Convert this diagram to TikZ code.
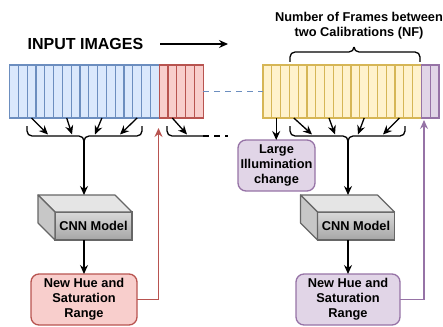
\documentclass[tikz,border=0pt]{standalone}
\usepackage{fontspec}
\setmainfont{Liberation Sans}
\usepackage{xcolor}
\usetikzlibrary{arrows.meta,calc,positioning}
\definecolor{blueFill}{HTML}{DAE8FC}
\definecolor{blueLine}{HTML}{6C8EBF}
\definecolor{redFill}{HTML}{F8CECC}
\definecolor{redLine}{HTML}{B85450}
\definecolor{yellowFill}{HTML}{FFF2CC}
\definecolor{yellowLine}{HTML}{D6B656}
\definecolor{purpleFill}{HTML}{E1D5E7}
\definecolor{purpleLine}{HTML}{9673A6}
\definecolor{cubeLine}{HTML}{666666}
\tikzset{%
	txt/.style      = {font=\bfseries\fontsize{12.8}{15}\selectfont, align=center},
	cell/.style     = {draw, rectangle, minimum width=8.8pt, minimum height=53pt, inner sep=0pt, outer sep=0pt, line width=1.2pt},
	bluecell/.style = {cell, fill=blueFill, draw=blueLine},
	redcell/.style  = {cell, fill=redFill, draw=redLine},
	yelcell/.style  = {cell, fill=yellowFill, draw=yellowLine},
	purcell/.style  = {cell, fill=purpleFill, draw=purpleLine},
	roundbox/.style = {txt, draw, rectangle, rounded corners=8pt, line width=1.3pt, inner sep=0pt, outer sep=0pt},
	cube/.style     = {txt, draw=cubeLine, rectangle, line width=1.2pt, minimum width=77pt, minimum height=28pt, inner sep=0pt, outer sep=0pt, top color=black!15, bottom color=black!35},
	face/.style     = {draw=cubeLine, line width=1.2pt, line join=round},
	arrow/.style    = {line width=1.3pt, -{Stealth[length=9pt,width=8pt,inset=3pt]}},
	brace/.style    = {line width=1.3pt, rounded corners=5pt},
}

\begin{document}
\begin{tikzpicture}[x=1pt,y=-1pt]
	\useasboundingbox (0,0) rectangle (443,326);
	% title and the flow arrow
	\node[txt, font=\bfseries\fontsize{16}{18}\selectfont, inner sep=0pt] (title) at (85.5,44) {INPUT IMAGES};
	\coordinate (flowend) at (228,44);
	\draw[arrow] ([xshift=17pt]title.east) -- (flowend);
	% first batch of frames
	\foreach \i in {1,...,17}
		\node[bluecell] (b\i) at ({9.5+8.8*(\i-0.5)},91.5) {};
	\foreach \i in {1,...,5}
		\node[redcell] (r\i) at ({159.1+8.8*(\i-0.5)},91.5) {};
	% second batch of frames
	\foreach \i in {1,...,18}
		\node[yelcell] (y\i) at ({263+8.8*(\i-0.5)},91.5) {};
	\foreach \i in {1,...,2}
		\node[purcell] (p\i) at ({421.4+8.8*(\i-0.5)},91.5) {};
	\draw[blueLine, line width=1.3pt, dash pattern=on 6pt off 5pt] (r5.east) -- (y1.west);
	% brace over the calibration interval
	\draw[brace] (290,62) |- (354,52) -- (354,47);
	\draw[brace] (420,62) |- (354,52) -- (354,47);
	\node[txt] (nf) at (359,25.5) {Number of Frames between\\two Calibrations (NF)};
	% braces under the frames
	\coordinate (lbrace) at (84,141);
	\draw[brace] (27,126) |- (lbrace |- 0,136) -- (lbrace);
	\draw[brace] (142,126) |- (lbrace |- 0,136) -- (lbrace);
	\coordinate (rbrace) at (348,141);
	\draw[brace] (290,126) |- (rbrace |- 0,136) -- (rbrace);
	\draw[brace] (405,126) |- (rbrace |- 0,136) -- (rbrace);
	\coordinate (halfend) at (203,136);
	\coordinate (dashend) at (228,136);
	\draw[brace] (167,126) |- (halfend);
	\draw[line width=1.3pt, dash pattern=on 6pt off 5pt] (halfend) -- (dashend);
	% frames into the braces
	\foreach \c/\x in {b3/48,b7/72,b11/95,b15/120,r2/187,y4/312,y8/335,y12/358,y16/383}
		\draw[arrow] (\c.south) -- (\x,134.5);
	% left pipeline
	\node[cube] (cnnL) at (93.5,226) {CNN Model};
	\draw[face, fill=black!10] (cnnL.north west) -- ++(-17,-17) -- ++(77,0) -- (cnnL.north east) -- cycle;
	\draw[face, fill=black!22] (cnnL.north west) -- ++(-17,-17) -- ++(0,28) -- (cnnL.south west) -- cycle;
	\coordinate (cnnLbk) at ($(cnnL.north west)+(-17,-17)$);
	\node[roundbox, fill=redFill, draw=redLine, minimum width=106pt, minimum height=51pt] (hsvL) at (84,299.5) {New Hue and\\Saturation\\Range};
	\draw[arrow] (lbrace) -- (lbrace |- cnnLbk);
	\draw[arrow] (cnnL.south -| hsvL.north) -- (hsvL.north);
	\coordinate (redtip) at (158.5,128);
	\draw[redLine, line width=1.3pt, -{Stealth[length=9pt,width=8pt,inset=3pt]}] (hsvL.east) -| (redtip);
	% right pipeline
	\node[roundbox, fill=purpleFill, draw=purpleLine, minimum width=77pt, minimum height=51pt] (illum) at (276.5,165.5) {Large\\Illumination\\change};
	\draw[arrow] (y2.south) -- (illum.north -| y2.south);
	\node[cube] (cnnR) at (356,226) {CNN Model};
	\draw[face, fill=black!10] (cnnR.north west) -- ++(-17,-17) -- ++(77,0) -- (cnnR.north east) -- cycle;
	\draw[face, fill=black!22] (cnnR.north west) -- ++(-17,-17) -- ++(0,28) -- (cnnR.south west) -- cycle;
	\coordinate (cnnRbk) at ($(cnnR.north west)+(-17,-17)$);
	\node[roundbox, fill=purpleFill, draw=purpleLine, minimum width=104pt, minimum height=51pt] (hsvR) at (348,299.5) {New Hue and\\Saturation\\Range};
	\draw[arrow] (rbrace) -- (rbrace |- cnnRbk);
	\draw[arrow] (cnnR.south -| hsvR.north) -- (hsvR.north);
	\coordinate (purtip) at (424,120);
	\draw[purpleLine, line width=1.3pt, -{Stealth[length=9pt,width=8pt,inset=3pt]}] (hsvR.east) -| (purtip);
\end{tikzpicture}
\end{document}
